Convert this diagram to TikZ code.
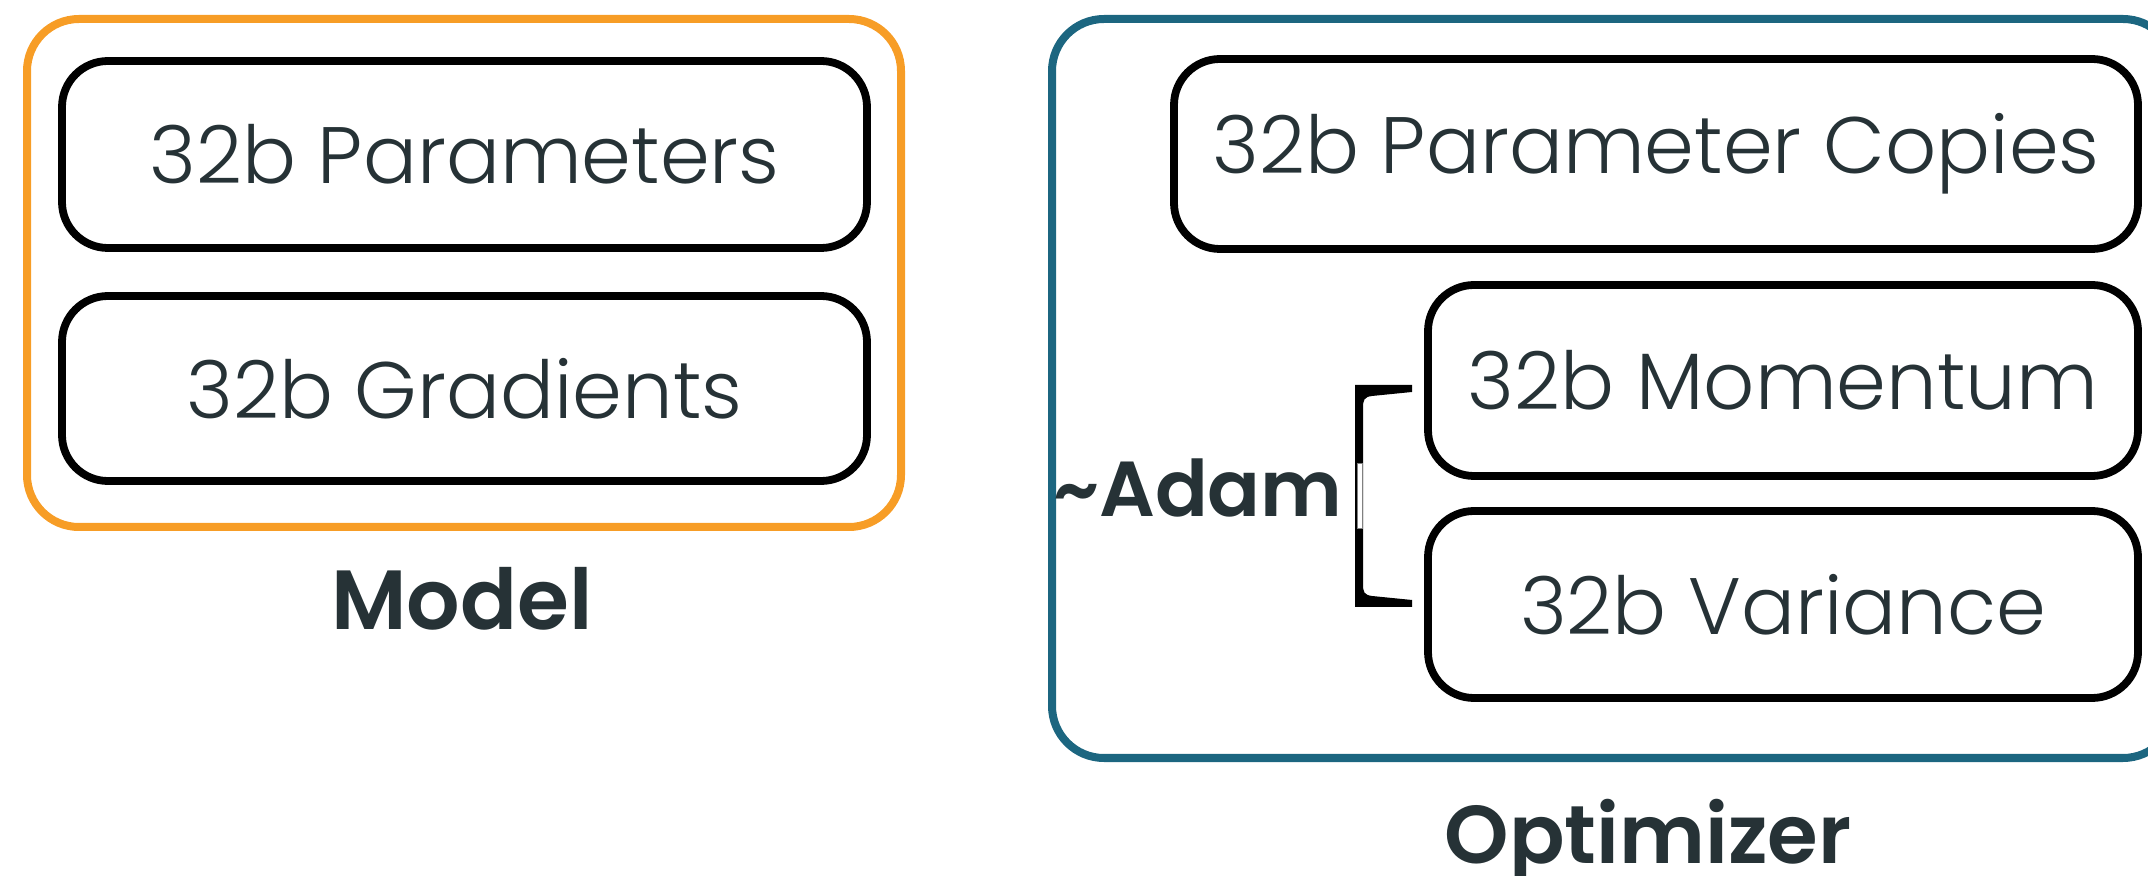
\documentclass[tikz,border=0pt]{standalone}
\usepackage{fontspec}
\setmainfont{Poppins}[UprightFont=* Light, BoldFont=* SemiBold]
\definecolor{ink}{HTML}{263236}
\definecolor{modelorange}{HTML}{F79D26}
\definecolor{optblue}{HTML}{1C6680}
\tikzset{
  outerbox/.style={draw=#1, line width=4pt, rounded corners=26pt, inner sep=0pt},
  itembox/.style={draw=black, line width=3.9pt, rounded corners=23pt, fill=white,
    text=ink, font=\fontsize{40}{48}\selectfont, inner sep=0pt},
  caption/.style={text=ink, font=\bfseries\fontsize{42}{50}\selectfont, inner sep=0pt},
}
\begin{document}
\begin{tikzpicture}[x=0.5pt, y=-0.5pt]
\useasboundingbox (0,0) rectangle (2148,876);
\clip (0,0) rectangle (2148,876);

% Model group
\node[outerbox=modelorange, minimum width=437pt, minimum height=254pt] (modelbox) at (464,273) {};
\node[itembox, minimum width=402.5pt, minimum height=93.5pt] (params) at (464.5,154.5) {32b Parameters};
\node[itembox, minimum width=402.5pt, minimum height=92.5pt] (grads) at (464.5,388.5) {32b Gradients};
\node[caption, anchor=base] (modellabel) at (462,630) {Model};

% Optimizer group
\node[outerbox=optblue, minimum width=561.5pt, minimum height=369.5pt] (optbox) at (1613.5,388.5) {};
\node[itembox, minimum width=482pt, minimum height=95pt] (copies) at (1656,154) {32b Parameter Copies};
\node[itembox, minimum width=355pt, minimum height=95.5pt] (momentum) at (1783,380.5) {32b Momentum};
\node[itembox, minimum width=355pt, minimum height=93.5pt] (variance) at (1783,604.5) {32b Variance};
\node[caption, font=\bfseries\fontsize{41}{50}\selectfont, anchor=base] (optlabel) at (1648,863) {Optimizer};

% Adam bracket grouping momentum and variance
\fill[black] (1355,385) -- (1412,385) -- (1412,392) -- (1372,396)
  .. controls (1364,397) and (1363,400) .. (1363,408) -- (1363,584)
  .. controls (1363,592) and (1364,595) .. (1372,596) -- (1412,600)
  -- (1412,607) -- (1355,607) -- cycle;
\draw[gray, line width=0.4pt, fill=white] (1357,463) rectangle (1362,528);
\node[caption, font=\bfseries\fontsize{39}{48}\selectfont, anchor=base east] (adam) at (1343,517) {\char"7E Adam};
\end{tikzpicture}
\end{document}
